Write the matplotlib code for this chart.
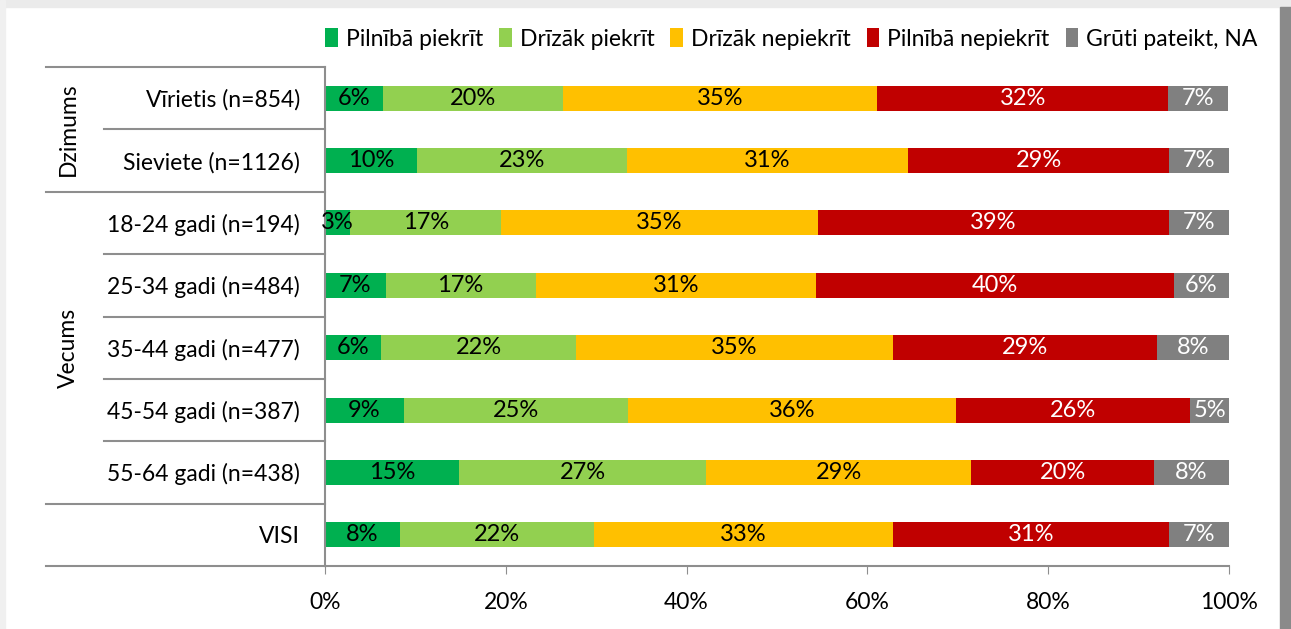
import numpy as np
import matplotlib.pyplot as plt
from matplotlib.patches import Rectangle

plt.rcParams['font.family'] = ['Lato', 'DejaVu Sans']

categories = ['Vīrietis (n=854)', 'Sieviete (n=1126)', '18-24 gadi (n=194)',
              '25-34 gadi (n=484)', '35-44 gadi (n=477)', '45-54 gadi (n=387)',
              '55-64 gadi (n=438)', 'VISI']
series_names = ['Pilnībā piekrīt', 'Drīzāk piekrīt', 'Drīzāk nepiekrīt',
                'Pilnībā nepiekrīt', 'Grūti pateikt, NA']
fully_agree = [6.4, 10.2, 2.8, 6.7, 6.2, 8.7, 14.8, 8.3]
rather_agree = [19.9, 23.2, 16.7, 16.6, 21.6, 24.8, 27.4, 21.5]
rather_disagree = [34.8, 31.1, 35.0, 31.0, 35.0, 36.3, 29.3, 33.0]
fully_disagree = [32.2, 28.9, 38.9, 39.6, 29.2, 25.9, 20.2, 30.6]
hard_to_say = [6.6, 6.6, 6.6, 6.1, 8.0, 4.6, 8.3, 6.6]
groups = [('Dzimums', 0, 1), ('Vecums', 2, 6)]
xticks = [0, 20, 40, 60, 80, 100]

colors = ['#00B050', '#92D050', '#FFC000', '#C00000', '#808080']
text_colors = ['black', 'black', 'black', 'white', 'white']
values = [fully_agree, rather_agree, rather_disagree, fully_disagree, hard_to_say]

fig = plt.figure(figsize=(12.91, 6.29), dpi=100)
fig.patch.set_facecolor('white')
# shadowed frame around the chart
fig.patches.append(Rectangle((0, 0.989), 1, 0.011, transform=fig.transFigure,
                             color='#ebebeb', zorder=0))
fig.patches.append(Rectangle((0, 0), 0.004, 1, transform=fig.transFigure,
                             color='#f0f0f0', zorder=0))
fig.patches.append(Rectangle((0.9915, 0), 0.0085, 0.989, transform=fig.transFigure,
                             color='#8a8a8a', zorder=0))

ax = fig.add_axes([325 / 1291, 63 / 629, 904 / 1291, 499 / 629])
y = np.arange(len(categories))
left = np.zeros(len(categories))
for vals, name, c, tc in zip(values, series_names, colors, text_colors):
    bars = ax.barh(y, vals, left=left, height=0.4, color=c, label=name)
    labels = [f'{v:.0f}%' for v in vals]
    ax.bar_label(bars, labels=labels, label_type='center', color=tc, fontsize=17)
    left += np.array(vals)

ax.set_xlim(0, 100)
ax.set_ylim(len(categories) - 0.5, -0.5)
ax.set_yticks(y)
ax.set_yticklabels(categories, fontsize=16.5)
ax.tick_params(axis='y', length=0, pad=18)
ax.set_xticks(xticks)
ax.set_xticklabels([f'{t}%' for t in xticks], fontsize=16.5)
ax.tick_params(axis='x', length=6, color='#8e8e8e', pad=13)
for s in ['top', 'right']:
    ax.spines[s].set_visible(False)
for s in ['left', 'bottom']:
    ax.spines[s].set_color('#8e8e8e')
    ax.spines[s].set_linewidth(1.5)

# table-like lines on the left
trans = ax.get_yaxis_transform()
outer_x, inner_x = -0.309, -0.245
group_edges = {-0.5, 1.5, 6.5, 7.5}
for b in np.arange(-0.5, len(categories)):
    x0 = outer_x if b in group_edges else inner_x
    ax.plot([x0, 0], [b, b], transform=trans, color='#8e8e8e', lw=1.5,
            clip_on=False)
for name, a, b in groups:
    ax.text(-0.284, (a + b) / 2, name, transform=trans, rotation=90,
            ha='center', va='center', fontsize=16.5)

ax.legend(loc='lower left', bbox_to_anchor=(0.0, 1.035), ncol=5, frameon=False,
          fontsize=16.5, handlelength=0.55, handleheight=0.9, handletextpad=0.35,
          columnspacing=0.7, borderaxespad=0, borderpad=0)

fig.savefig('out.png', dpi=100)
